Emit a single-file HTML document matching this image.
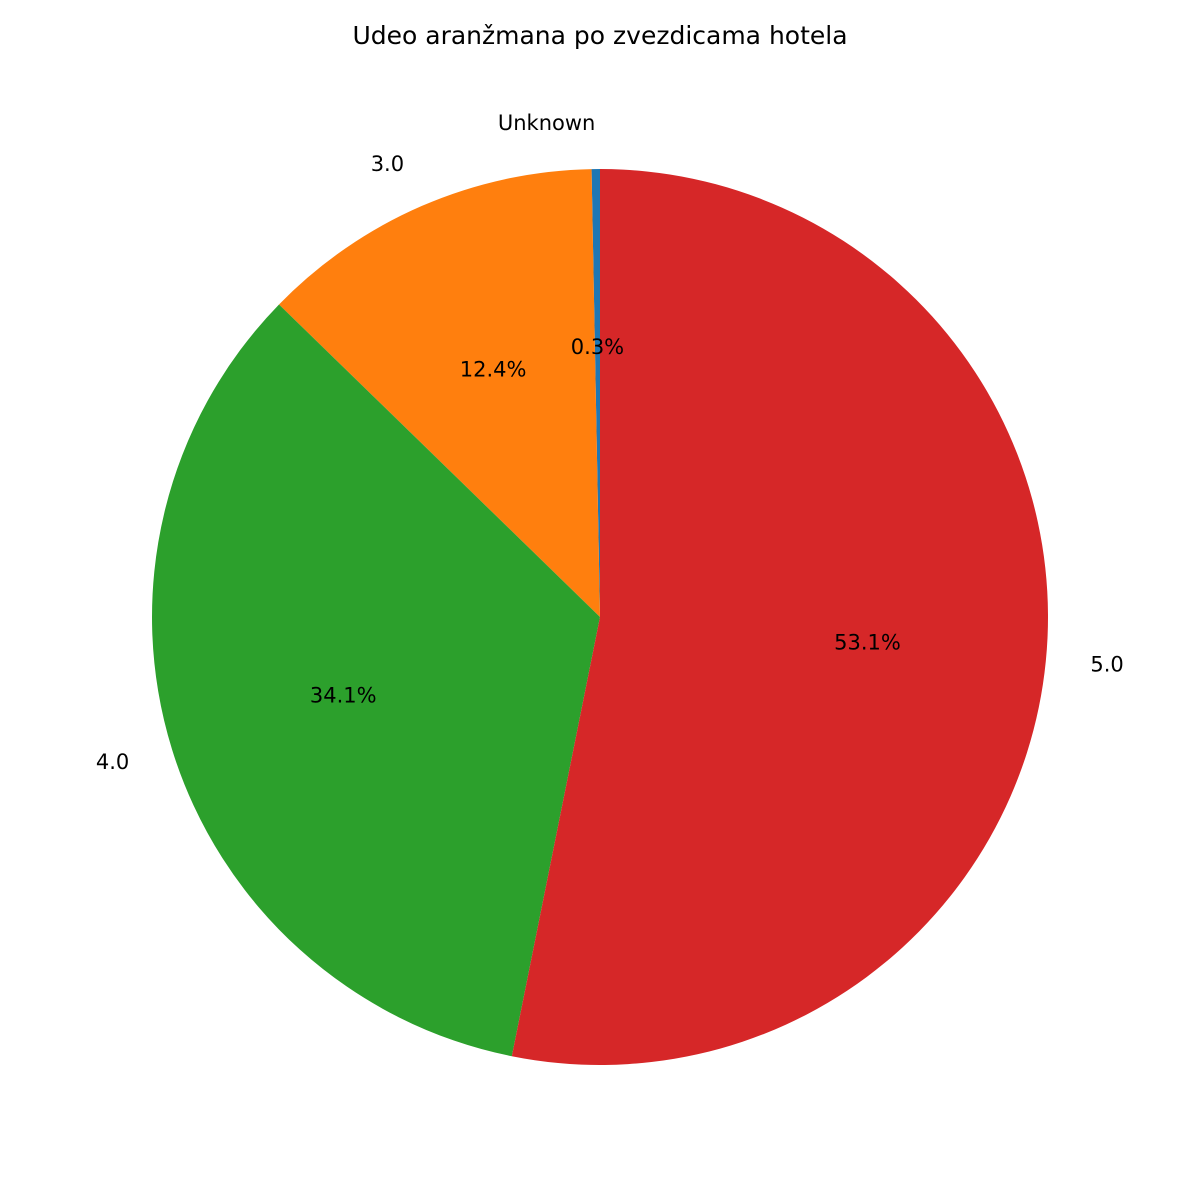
<!DOCTYPE html>
<html><head><meta charset="utf-8"><style>
html,body{margin:0;padding:0;background:#fff}
svg{display:block;font-family:"DejaVu Sans","Liberation Sans",sans-serif}
</style></head><body>
<svg id="chart" width="1200" height="1200" viewBox="0 0 1200 1200">
<text x="600" y="44" text-anchor="middle" font-size="25" fill="#000">Udeo aranžmana po zvezdicama hotela</text>
<g id="slices"></g>
<g id="labels"></g>
</svg>
<script>
const categories = ["Unknown", "3.0", "4.0", "5.0"];
const values = [0.3, 12.4, 34.1, 53.1];
const pctLabels = ["0.3%", "12.4%", "34.1%", "53.1%"];
const colors = ["#1f77b4", "#ff7f0e", "#2ca02c", "#d62728"];

const cx = 600, cy = 617, r = 448;
const NS = "http://www.w3.org/2000/svg";
const g = document.getElementById("slices");
const gl = document.getElementById("labels");
const total = values.reduce((a, b) => a + b, 0);
function pt(angDeg, rad) {
  const a = angDeg * Math.PI / 180;
  return [cx + rad * Math.cos(a), cy - rad * Math.sin(a)];
}
let start = 90;
values.forEach((v, i) => {
  const sweep = v / total * 360;
  const end = start + sweep;
  const [x1, y1] = pt(start, r);
  const [x2, y2] = pt(end, r);
  const large = sweep > 180 ? 1 : 0;
  const p = document.createElementNS(NS, "path");
  p.setAttribute("d", `M${cx},${cy} L${x1},${y1} A${r},${r} 0 ${large} 0 ${x2},${y2} Z`);
  p.setAttribute("fill", colors[i]);
  
  
  g.appendChild(p);

  const mid = start + sweep / 2;
  const [lx, ly] = pt(mid, r * 1.1);
  const t = document.createElementNS(NS, "text");
  t.setAttribute("x", lx);
  t.setAttribute("y", ly - 1);
  t.setAttribute("dominant-baseline", "central");
  t.setAttribute("text-anchor", Math.cos(mid * Math.PI / 180) >= 0 ? "start" : "end");
  t.setAttribute("font-size", "21");
  t.textContent = categories[i];
  
  
  gl.appendChild(t);

  const [px, py] = pt(mid, r * 0.6);
  const tp = document.createElementNS(NS, "text");
  tp.setAttribute("x", px);
  tp.setAttribute("y", py - 1);
  tp.setAttribute("dominant-baseline", "central");
  tp.setAttribute("text-anchor", "middle");
  tp.setAttribute("font-size", "21");
  tp.textContent = pctLabels[i];
  
  
  gl.appendChild(tp);

  start = end;
});
</script>
</body></html>
